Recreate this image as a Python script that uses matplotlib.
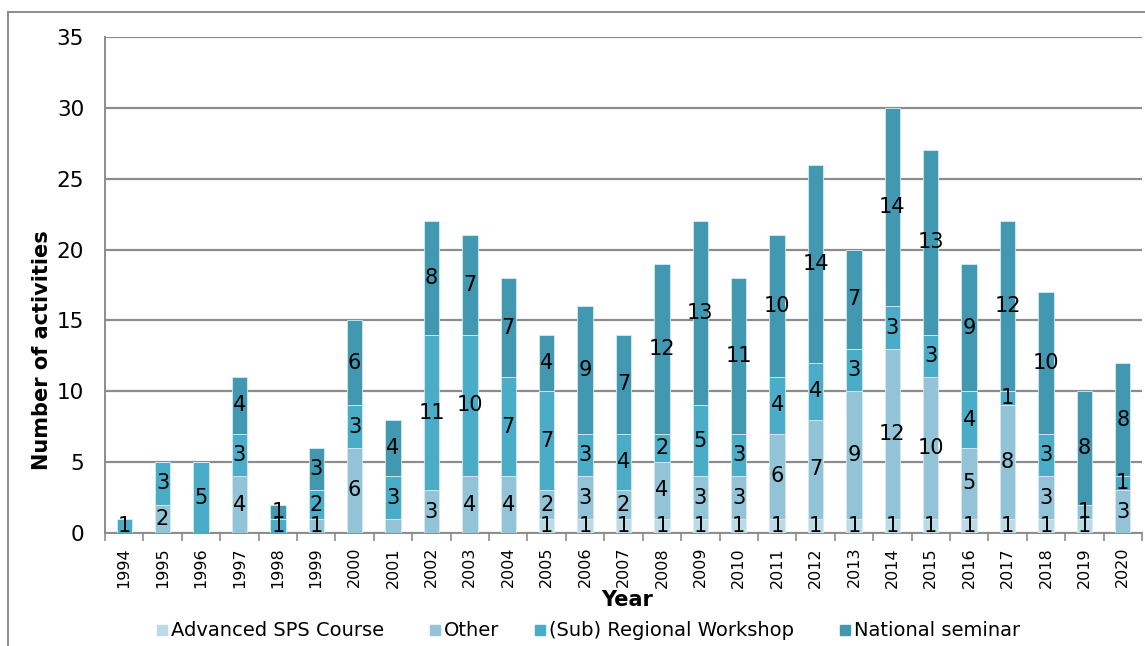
import matplotlib
matplotlib.use("Agg")
import matplotlib.pyplot as plt
from matplotlib.lines import Line2D
from matplotlib.patches import Rectangle
import numpy as np

years = [str(y) for y in range(1994, 2021)]
series_names = ["Advanced SPS Course", "Other", "(Sub) Regional Workshop", "National seminar"]
advanced = [0, 0, 0, 0, 0, 0, 0, 0, 0, 0, 0, 1, 1, 1, 1, 1, 1, 1, 1, 1, 1, 1, 1, 1, 1, 1, 0]
other    = [0, 2, 0, 4, 0, 1, 6, 1, 3, 4, 4, 2, 3, 2, 4, 3, 3, 6, 7, 9, 12, 10, 5, 8, 3, 1, 3]
regional = [1, 3, 5, 3, 1, 2, 3, 3, 11, 10, 7, 7, 3, 4, 2, 5, 3, 4, 4, 3, 3, 3, 4, 1, 3, 0, 1]
national = [0, 0, 0, 4, 1, 3, 6, 4, 8, 7, 7, 4, 9, 7, 12, 13, 11, 10, 14, 7, 14, 13, 9, 12, 10, 8, 8]
hidden_labels = {("2001", 1)}  # label not shown in the reference

colors = ["#bcdbe6", "#93c3d6", "#4aacc6", "#4298b1"]

W, H = 1145, 646
fig = plt.figure(figsize=(W/100, H/100), dpi=100)
ax = fig.add_axes([105/W, 1-533/H, (1142-105)/W, (533-37)/H])

x = np.arange(len(years))
data = [advanced, other, regional, national]
bottom = np.zeros(len(years))
for si, (vals, col, name) in enumerate(zip(data, colors, series_names)):
    vals = np.array(vals, dtype=float)
    ax.bar(x, vals, 0.4, bottom=bottom, color=col, edgecolor="#d6ebf2",
           linewidth=0.6, label=name, zorder=3)
    for xi, v, b in zip(x, vals, bottom):
        if v > 0 and (years[xi], si) not in hidden_labels:
            ax.text(xi, b + v/2, f"{int(v)}", ha="center", va="center",
                    fontsize=15, color="black", zorder=4)
    bottom += vals

ax.set_xlim(-0.5, len(years)-0.5)
ax.set_ylim(0, 35)
ax.set_yticks(range(0, 36, 5))
ax.yaxis.grid(True, color="#8c8c8c", linewidth=1.6, zorder=0)
ax.set_axisbelow(True)
ax.tick_params(axis="y", length=0, pad=15, labelsize=15.5)
ax.set_xticks(x)
ax.set_xticklabels(years, rotation=90, fontsize=11.5)
ax.set_xticks(np.arange(-0.5, len(years), 1), minor=True)
ax.tick_params(axis="x", which="major", length=0, pad=10)
ax.tick_params(axis="x", which="minor", length=6, color="#8c8c8c", width=1.2)
for s in ["top", "right"]:
    ax.spines[s].set_visible(False)
for s in ["left", "bottom"]:
    ax.spines[s].set_color("#8c8c8c")
    ax.spines[s].set_linewidth(1.4)

fig.text(627/W, 1-600/H, "Year", ha="center", va="center",
         fontsize=15, fontweight="bold")
fig.text(42/W, 1-350/H, "Number of activities", ha="center", va="center",
         rotation=90, fontsize=15, fontweight="bold")

# legend, laid out as in the reference
leg_x = [157, 430, 535, 840]
leg_y = 630
for lx, col, name in zip(leg_x, colors, series_names):
    fig.add_artist(Rectangle((lx/W, 1-(leg_y+5)/H), 10/W, 10/H, color=col,
                             transform=fig.transFigure))
    fig.text((lx+14)/W, 1-leg_y/H, name, ha="left", va="center", fontsize=14)

fig.add_artist(Line2D([8/W, 8/W], [0, 1-12/H], color="#8c8c8c",
                      linewidth=1.4, transform=fig.transFigure))
fig.add_artist(Line2D([8/W, 1], [1-12/H, 1-12/H], color="#8c8c8c",
                      linewidth=1.4, transform=fig.transFigure))

fig.savefig("out.png", dpi=100)
